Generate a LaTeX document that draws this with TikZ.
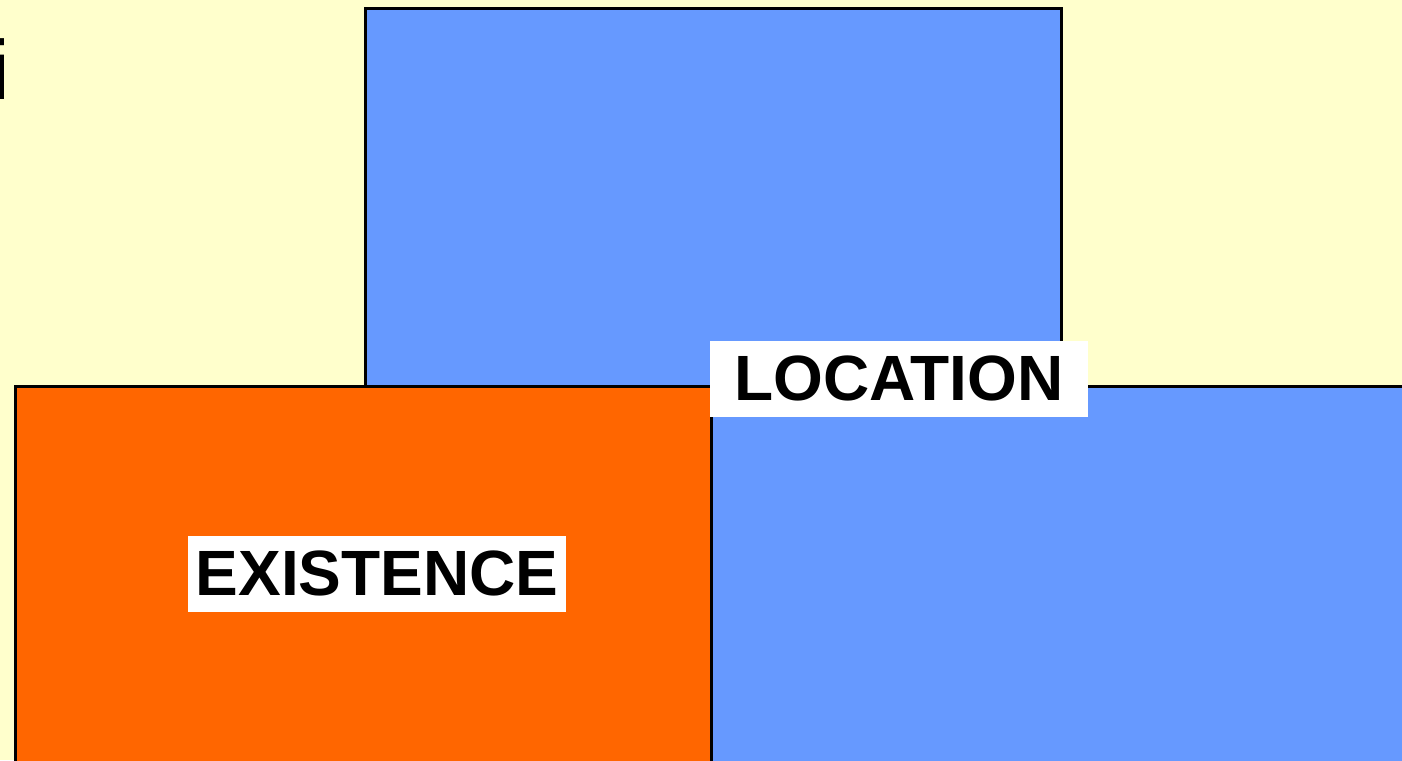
\documentclass[tikz,border=0pt]{standalone}
\usepackage{fontspec}
\setsansfont{Liberation Sans}
\usetikzlibrary{positioning}
\definecolor{paleyellow}{HTML}{FFFFCC}
\definecolor{skyblue}{HTML}{6699FF}
\definecolor{deeporange}{HTML}{FF6600}
\begin{document}
\begin{tikzpicture}[x=0.5pt,y=-0.5pt,font=\sffamily,
  block/.style={draw=black,line width=1.3pt,anchor=north west,inner sep=0pt},
  tag/.style={fill=white,inner sep=0pt,minimum width=189pt,minimum height=38pt,font=\sffamily\bfseries\fontsize{32}{32}\selectfont}]
\useasboundingbox (0,0) rectangle (1402,760);
\clip (0,0) rectangle (1402,760);
\fill[paleyellow] (0,0) rectangle (1402,760);
\node[anchor=base west,inner sep=0pt,font=\sffamily\fontsize{42}{42}\selectfont] (title) at (-9,99) {i};
% blocks
\node[block,fill=skyblue,minimum width=348pt,minimum height=189pt] (upper) at (364,7) {};
\node[block,fill=deeporange,minimum width=348pt,minimum height=200pt] (exist) at (14,385) {};
\node[block,fill=skyblue,minimum width=360pt,minimum height=200pt] (lower) at (710,385) {};
% labels
\node[tag] (loc) at (899,378.5) {LOCATION};
\node[tag] (ex) at (377,573.5) {EXISTENCE};
\end{tikzpicture}
\end{document}
